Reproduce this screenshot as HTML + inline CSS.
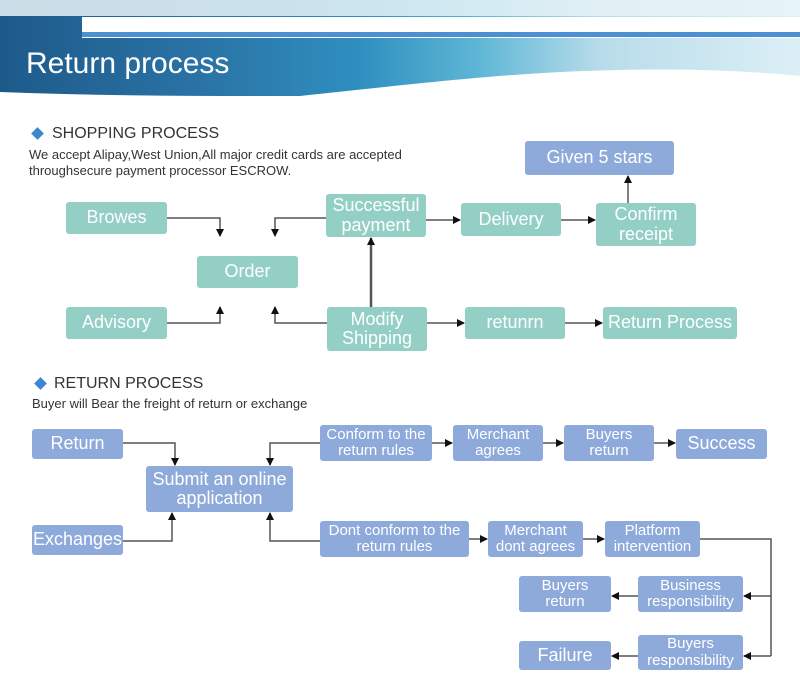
<!DOCTYPE html>
<html><head><meta charset="utf-8"><style>
body{margin:0;width:800px;height:678px;background:#fff;position:relative;overflow:hidden;font-family:"Liberation Sans",Arial,sans-serif;}
.hdr{position:absolute;left:0;top:0;width:800px;height:96px;background:linear-gradient(90deg,#1d5a8a 0%,#2a73a6 25%,#2f8fbf 45%,#5fb7d6 60%,#b8dcea 75%,#dceff6 100%);}
.b{position:absolute;color:#fff;text-align:center;display:flex;align-items:center;justify-content:center;line-height:1.08;border-radius:3px;}
.t{background:#94cfc6;font-size:18px;}
.u{background:#8eaadb;font-size:16px;}
.h{position:absolute;font-size:16px;color:#333;}
.p{position:absolute;font-size:13px;color:#333;line-height:16px;}
.d{position:absolute;width:9px;height:9px;background:#3d86d1;transform:rotate(45deg);}
</style></head><body>
<div class="hdr"></div>
<svg style="position:absolute;left:0;top:0" width="800" height="100">
<path d="M0,0 L800,0 L800,16 L0,16 Z" fill="#e8f3f7" opacity="0.85"/>
<path d="M82,17 L800,17 L800,38 L82,38 Z" fill="#fff"/>
<rect x="82" y="32" width="718" height="5" fill="#4a90d2"/>
<path d="M300,96 C450,80 520,72 620,70 C700,68 760,72 800,76 L800,100 L0,100 L0,96 Z" fill="#fff"/>
<path d="M0,92 C100,96 200,96 300,96 L0,100Z" fill="#fff"/>
</svg>
<div style="position:absolute;left:26px;top:47px;font-size:30px;color:#fff;">Return process</div>

<div class="d" style="left:33px;top:129px"></div>
<div class="h" style="left:52px;top:125px">SHOPPING PROCESS</div>
<div class="p" style="left:29px;top:147px">We accept Alipay,West Union,All major credit cards are accepted<br>throughsecure payment processor ESCROW.</div>

<div class="b t" style="left:66px;top:202px;width:101px;height:32px">Browes</div>
<div class="b t" style="left:197px;top:256px;width:101px;height:32px">Order</div>
<div class="b t" style="left:66px;top:307px;width:101px;height:32px">Advisory</div>
<div class="b t" style="left:326px;top:194px;width:100px;height:43px">Successful<br>payment</div>
<div class="b t" style="left:461px;top:203px;width:100px;height:33px">Delivery</div>
<div class="b t" style="left:596px;top:203px;width:100px;height:43px">Confirm<br>receipt</div>
<div class="b u" style="left:525px;top:141px;width:149px;height:34px;font-size:18px">Given 5 stars</div>
<div class="b t" style="left:327px;top:307px;width:100px;height:44px">Modify<br>Shipping</div>
<div class="b t" style="left:465px;top:307px;width:100px;height:32px">retunrn</div>
<div class="b t" style="left:603px;top:307px;width:134px;height:32px">Return Process</div>

<div class="d" style="left:36px;top:379px"></div>
<div class="h" style="left:54px;top:375px">RETURN PROCESS</div>
<div class="p" style="left:32px;top:396px">Buyer will Bear the freight of return or exchange</div>

<div class="b u" style="left:32px;top:429px;width:91px;height:30px;font-size:18px">Return</div>
<div class="b u" style="left:146px;top:466px;width:147px;height:46px;font-size:18px">Submit an online<br>application</div>
<div class="b u" style="left:32px;top:525px;width:91px;height:30px;font-size:18px">Exchanges</div>
<div class="b u" style="left:320px;top:425px;width:112px;height:36px;font-size:15px">Conform to the<br>return rules</div>
<div class="b u" style="left:453px;top:425px;width:90px;height:36px;font-size:15px">Merchant<br>agrees</div>
<div class="b u" style="left:564px;top:425px;width:90px;height:36px;font-size:15px">Buyers<br>return</div>
<div class="b u" style="left:676px;top:429px;width:91px;height:30px;font-size:18px">Success</div>
<div class="b u" style="left:320px;top:521px;width:149px;height:36px;font-size:15px">Dont conform to the<br>return rules</div>
<div class="b u" style="left:488px;top:521px;width:95px;height:36px;font-size:15px">Merchant<br>dont agrees</div>
<div class="b u" style="left:605px;top:521px;width:95px;height:36px;font-size:15px">Platform<br>intervention</div>
<div class="b u" style="left:519px;top:576px;width:92px;height:36px;font-size:15px">Buyers<br>return</div>
<div class="b u" style="left:638px;top:576px;width:105px;height:36px;font-size:15px">Business<br>responsibility</div>
<div class="b u" style="left:519px;top:641px;width:92px;height:29px;font-size:18px">Failure</div>
<div class="b u" style="left:638px;top:635px;width:105px;height:35px;font-size:15px">Buyers<br>responsibility</div>

<svg style="position:absolute;left:0;top:0" width="800" height="678">
<defs><marker id="a" markerWidth="8" markerHeight="8" refX="7" refY="4" orient="auto" markerUnits="userSpaceOnUse"><path d="M0,0 L8,4 L0,8Z" fill="#111"/></marker></defs>
<g stroke="#555" stroke-width="1.5" fill="none" marker-end="url(#a)">
<path d="M167,218 H220 V236"/>
<path d="M326,218 H275 V236"/>
<path d="M167,323 H220 V307"/>
<path d="M327,323 H275 V307"/>
<path d="M371,307 V238" stroke-width="2.5"/>
<path d="M426,220 H460"/>
<path d="M561,220 H595"/>
<path d="M628,203 V176"/>
<path d="M427,323 H464"/>
<path d="M565,323 H602"/>
<path d="M123,443 H175 V465"/>
<path d="M320,443 H270 V465"/>
<path d="M123,541 H172 V513"/>
<path d="M320,541 H270 V513"/>
<path d="M432,443 H452"/>
<path d="M543,443 H563"/>
<path d="M654,443 H675"/>
<path d="M469,539 H487"/>
<path d="M583,539 H604"/>
<path d="M771,596 H744"/>
<path d="M771,656 H744"/>
<path d="M638,596 H612"/>
<path d="M638,656 H612"/>
</g>
<path d="M700,539 H771 V656" stroke="#555" stroke-width="1.5" fill="none"/>
</svg>
</body></html>
